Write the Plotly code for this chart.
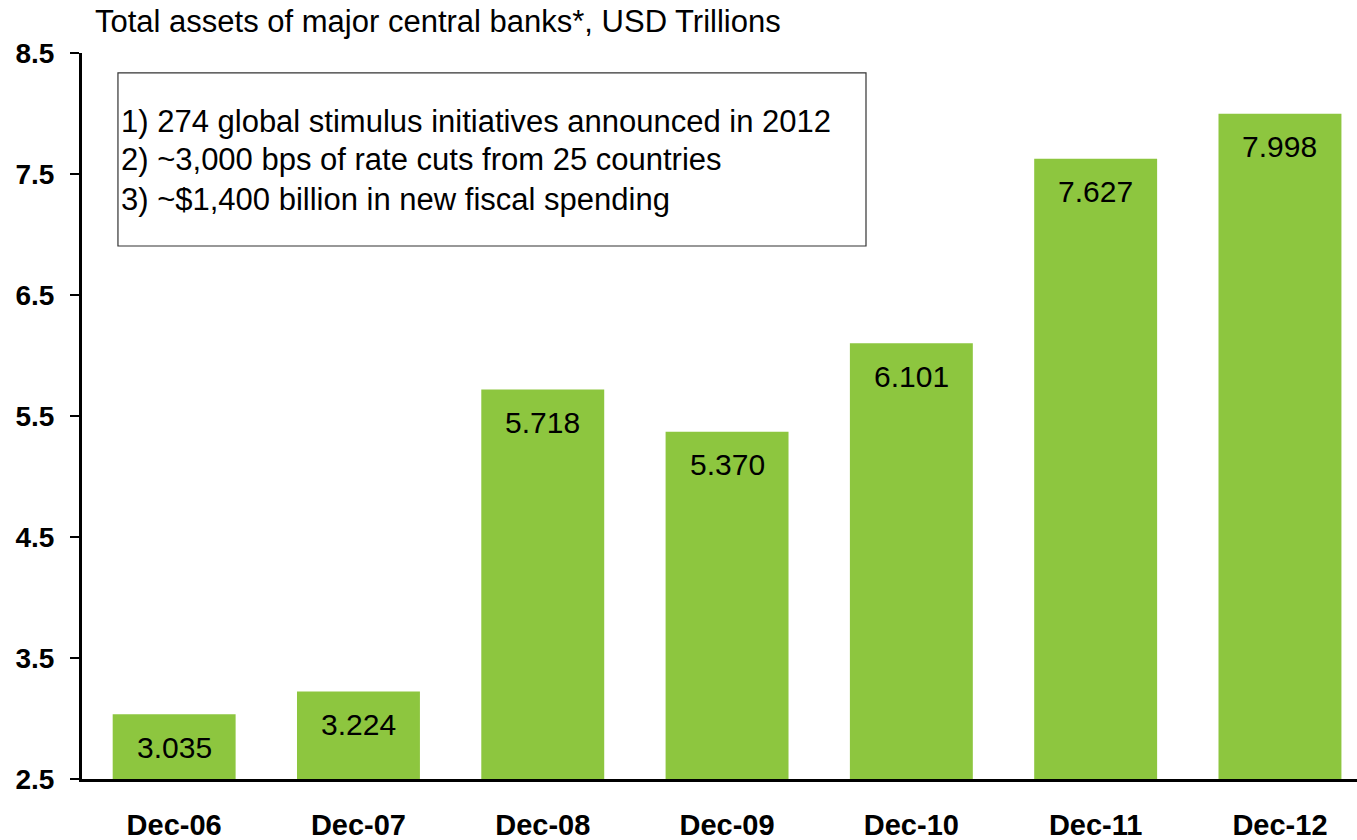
import plotly.graph_objects as go

# Year-end total assets of major central banks (USD trillions)
periods = ["Dec-06", "Dec-07", "Dec-08", "Dec-09", "Dec-10", "Dec-11", "Dec-12"]
assets = [3.035, 3.224, 5.718, 5.370, 6.101, 7.627, 7.998]
y_ticks = [2.5, 3.5, 4.5, 5.5, 6.5, 7.5, 8.5]
notes = [
    "1) 274 global stimulus initiatives announced in 2012",
    "2) ~3,000 bps of rate cuts from 25 countries",
    "3) ~$1,400 billion in new fiscal spending",
]
title_text = "Total assets of major central banks*, USD Trillions"

GREEN = "#8DC63F"
FONT = "Liberation Sans, Arial, sans-serif"

fig = go.Figure(
    go.Bar(
        x=periods,
        y=assets,
        marker=dict(color=GREEN, line=dict(width=0)),
        hoverinfo="x+y",
    )
)

# value labels just inside the top of each bar
for p, v in zip(periods, assets):
    fig.add_annotation(
        x=p, y=v, xref="x", yref="y",
        text=f"{v:.3f}", showarrow=False,
        yanchor="middle", yshift=-33,
        font=dict(family=FONT, size=30, color="black"),
    )

# boxed notes in the upper left
fig.add_shape(
    type="rect", xref="paper", yref="y",
    x0=0.0282, x1=0.6149, y0=6.905, y1=8.335,
    line=dict(color="#333333", width=1.2), fillcolor="white", layer="above",
)
for note, ny in zip(notes, [7.938, 7.624, 7.293]):
    fig.add_annotation(
        x=0.029, y=ny, xref="paper", yref="y",
        text=note, showarrow=False, xanchor="left", yanchor="middle",
        font=dict(family=FONT, size=31, color="black"),
    )

# chart heading above the plot area
fig.add_annotation(
    x=(93 - 82) / 1275, y=1 + (53 - 22) / 726, xref="paper", yref="paper",
    text=title_text, showarrow=False, xanchor="left", yanchor="middle",
    font=dict(family=FONT, size=31, color="black"),
)

fig.update_layout(
    width=1357, height=840,
    margin=dict(l=82, r=0, t=53, b=61),
    paper_bgcolor="white", plot_bgcolor="white",
    bargap=0.333,
    showlegend=False,
    font=dict(family=FONT, color="black"),
)
fig.update_xaxes(
    range=[-0.5, 6.418],
    showline=True, linecolor="black", linewidth=3,
    ticks="", showgrid=False,
    tickfont=dict(family=FONT, size=29, color="black", weight="bold"),
    ticklabelstandoff=18,
)
fig.update_yaxes(
    range=[2.5, 8.5], tickvals=y_ticks, ticktext=[f"{t:.1f}" for t in y_ticks],
    showline=True, linecolor="black", linewidth=3,
    ticks="outside", ticklen=9, tickwidth=2, tickcolor="black",
    showgrid=False, zeroline=False,
    tickfont=dict(family=FONT, size=28, color="black", weight="bold"),
    ticklabelstandoff=10,
)

fig.write_html("out.html")
